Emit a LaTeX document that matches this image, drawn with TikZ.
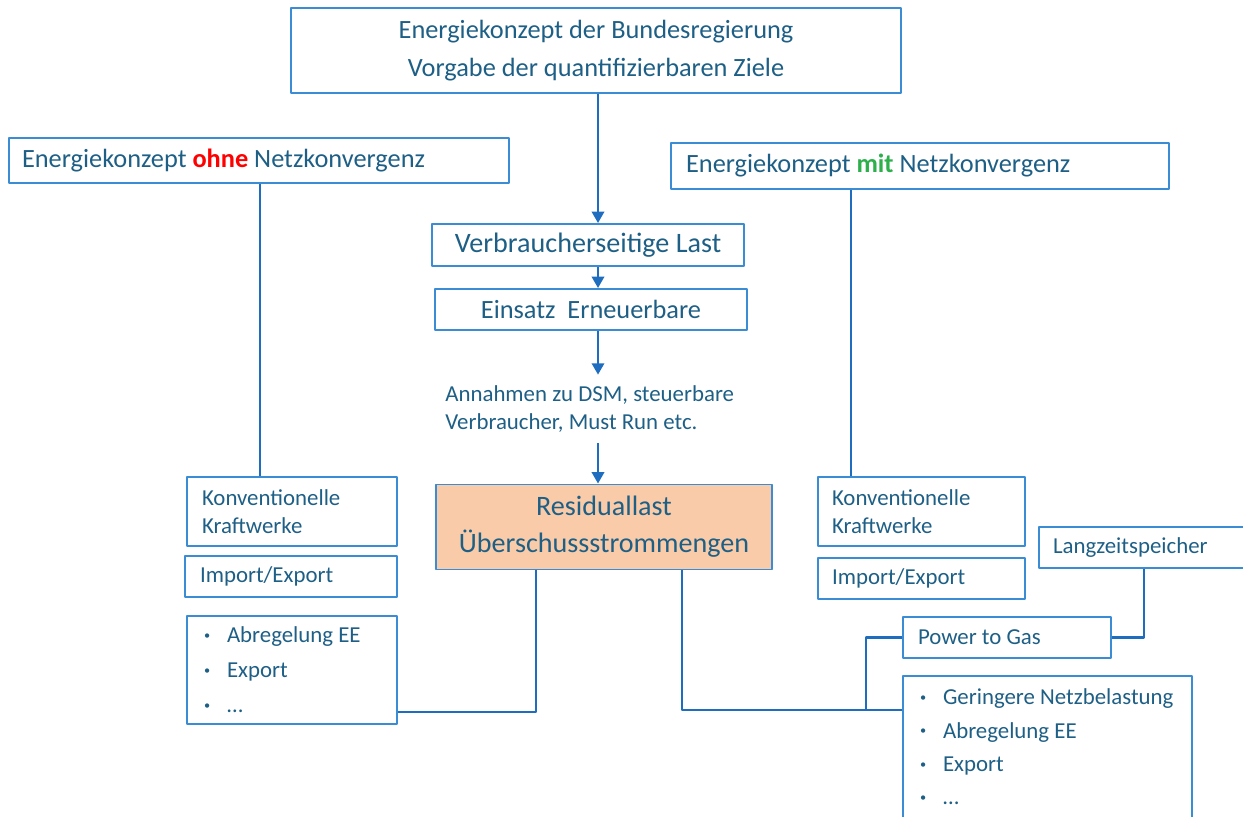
\documentclass[tikz,border=0pt]{standalone}
\usepackage{fontspec}
\setmainfont{Carlito}
\usetikzlibrary{arrows.meta}

\definecolor{boxblue}{HTML}{3A8DD4}
\definecolor{lineblue}{HTML}{1F6DBF}
\definecolor{txtblue}{HTML}{1E5F86}
\definecolor{residfill}{HTML}{F9CBA8}
\definecolor{ohnered}{HTML}{FF0000}
\definecolor{mitgreen}{HTML}{2DB04B}

\tikzset{
  box/.style={draw=boxblue,line width=1.1pt,inner sep=0pt,text=txtblue,
    font=\fontsize{13}{16}\selectfont},
  leftbox/.style={box,align=flush left},
  big/.style={font=\fontsize{15}{18}\selectfont},
  arr/.style={draw=lineblue,line width=1.4pt,-{Triangle[width=7pt,length=6.5pt]}},
  conn/.style={draw=lineblue,line width=1.4pt},
}
\newcommand{\listitem}[1]{\mbox{\makebox[0.46cm][l]{\raisebox{0.3ex}{\fontsize{7}{7}\selectfont\textbullet}}#1}}

\begin{document}
\begin{tikzpicture}[x=0.02cm,y=-0.02cm,line join=round]
  \useasboundingbox (0,0) rectangle (1243,816);
  \clip (0,0) rectangle (1243,816);
  % guide coordinates
  \coordinate (axis) at (598,0);
  \coordinate (lleg) at (260,0);
  \coordinate (rleg) at (851,0);
  \coordinate (lfoot) at (536,712);
  \coordinate (rfoot) at (682,710);
  \coordinate (pjoin) at (866,710);
  \coordinate (sdrop) at (1144,0);
  % middle column
  \node[box,big,align=center,minimum width=12.2cm,minimum height=1.7cm] (ziel) at (596,50.5)
    {Energiekonzept der Bundesregierung\\[4pt]Vorgabe der quantifizierbaren Ziele};
  \node[box,font=\fontsize{16}{19}\selectfont,minimum width=6.24cm,minimum height=0.84cm] (vlast) at (588,245)
    {Verbraucherseitige Last};
  \node[box,big,minimum width=6.24cm,minimum height=0.82cm] (erneu) at (591,309.5) {Einsatz~ Erneuerbare};
  \node[text=txtblue,font=\fontsize{13}{16}\selectfont,align=flush left,anchor=west,
    inner xsep=0pt,inner ysep=6pt] (annahmen) at (445,409)
    {Annahmen zu DSM, steuerbare\\Verbraucher, Must Run etc.};
  \node[box,fill=residfill,align=center,minimum width=6.72cm,minimum height=1.7cm,
    font=\fontsize{16}{18}\selectfont] (resid) at (604,527)
    {Residuallast\\[3pt]Überschussstrommengen};
  % left column
  \node[leftbox,big,minimum width=10cm,minimum height=0.9cm,text width=9.48cm] (ohne) at (259,160.5)
    {Energiekonzept \textcolor{ohnered}{\textbf{ohne}} Netzkonvergenz};
  \node[leftbox,minimum width=4.2cm,minimum height=1.38cm,text width=3.6cm] (kwl) at (292,511.5)
    {Konventionelle\\Kraftwerke};
  \node[leftbox,minimum width=4.24cm,minimum height=0.82cm,text width=3.64cm] (iel) at (291,576.5)
    {Import/Export};
  \node[leftbox,minimum width=4.2cm,minimum height=2.16cm,text width=3.52cm,
    font=\fontsize{13}{20}\selectfont] (listl) at (292,670)
    {\listitem{Abregelung EE}\\\listitem{Export}\\\listitem{\dots}};
  % right column
  \node[leftbox,big,minimum width=9.96cm,minimum height=0.92cm,text width=9.36cm] (mit) at (920,166)
    {Energiekonzept \textcolor{mitgreen}{\textbf{mit}} Netzkonvergenz};
  \node[leftbox,minimum width=4.14cm,minimum height=1.38cm,text width=3.58cm] (kwr) at (921.5,511.5)
    {Konventionelle\\Kraftwerke};
  \node[leftbox,minimum width=4.14cm,minimum height=0.82cm,text width=3.58cm] (ier) at (921.5,578.5)
    {Import/Export};
  \node[leftbox,minimum width=4.44cm,minimum height=0.82cm,text width=3.88cm] (speicher) at (1150,547.5)
    {Langzeitspeicher};
  \node[leftbox,minimum width=4.16cm,minimum height=0.82cm,text width=3.56cm] (p2g) at (1007,637.5)
    {Power to Gas};
  \node[leftbox,minimum width=5.78cm,minimum height=2.84cm,text width=5.1cm,
    font=\fontsize{13}{19}\selectfont] (listr) at (1047.5,747)
    {\listitem{Geringere Netzbelastung}\\\listitem{Abregelung EE}\\\listitem{Export}\\\listitem{\dots}};
  % connectors
  \draw[arr] (ziel.south -| axis) -- (vlast.north -| axis);
  \draw[arr] (vlast.south -| axis) -- (erneu.north -| axis);
  \draw[arr] (erneu.south -| axis) -- (annahmen.north -| axis);
  \draw[arr] (annahmen.south -| axis) -- (resid.north -| axis);
  \draw[conn] (ohne.south -| lleg) -- (kwl.north -| lleg);
  \draw[conn] (mit.south -| rleg) -- (kwr.north -| rleg);
  \draw[conn] (resid.south -| lfoot) |- (listl.east |- lfoot);
  \draw[conn] (resid.south -| rfoot) |- (listr.west |- rfoot);
  \draw[conn] (pjoin) |- (p2g.west);
  \draw[conn] (speicher.south -| sdrop) |- (p2g.east);
\end{tikzpicture}
\end{document}
